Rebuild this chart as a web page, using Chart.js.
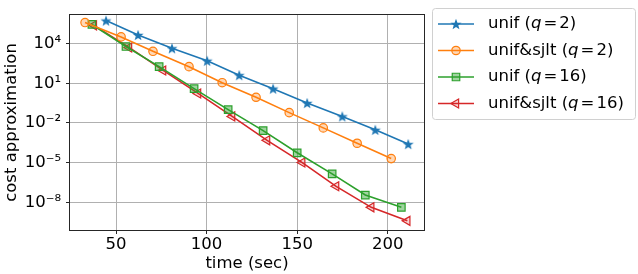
<!DOCTYPE html>
<html>
<head>
<meta charset="utf-8">
<script src="https://cdn.jsdelivr.net/npm/chart.js@4.4.0/dist/chart.umd.min.js"></script>
<style>
  html, body { margin: 0; padding: 0; background: #fff; }
  #wrap { width: 638px; height: 274px; position: relative; }
</style>
</head>
<body>
<div id="wrap"><canvas id="c" width="638" height="274"></canvas></div>
<script>
// ── data ──────────────────────────────────────────────────────────────────
const unifQ2X   = [44.5, 62.2, 80.9, 100.3, 118.0, 136.7, 155.5, 174.9, 193.1, 211.3];
const unifQ2Y   = [5.5e5, 4.5e4, 4.4e3, 5.0e2, 41, 3.9, 0.32, 0.031, 3.0e-3, 2.5e-4];
const sjltQ2X   = [32.9, 52.8, 70.4, 90.3, 108.6, 127.3, 145.6, 164.4, 183.1, 201.9];
const sjltQ2Y   = [3.9e5, 3.2e4, 2.6e3, 180, 11, 0.87, 0.060, 4.2e-3, 2.9e-4, 2.0e-5];
const unifQ16X  = [36.7, 55.5, 73.8, 93.1, 111.9, 131.2, 150.0, 169.3, 187.6, 207.5];
const unifQ16Y  = [2.8e5, 6.0e3, 180, 3.9, 0.10, 2.6e-3, 5.5e-5, 1.4e-6, 3.5e-8, 4.1e-9];
const sjltQ16X  = [37.8, 57.2, 76.0, 95.3, 114.1, 133.4, 152.8, 171.5, 190.9, 210.8];
const sjltQ16Y  = [2.4e5, 5.1e3, 93, 1.7, 0.031, 4.8e-4, 1.0e-5, 1.6e-7, 4.1e-9, 3.9e-10];

const xTicks = [50, 100, 150, 200];
const yTicks = [1e-8, 1e-5, 1e-2, 1e1, 1e4];
const yTickLabels = ["10⁻⁸", "10⁻⁵", "10⁻²", "10¹", "10⁴"];

// [text before q, q, value after "="]
const legendLabels = [
  ["unif (", "q", "2)"],
  ["unif&sjlt (", "q", "2)"],
  ["unif (", "q", "16)"],
  ["unif&sjlt (", "q", "16)"],
];

// ── markers ───────────────────────────────────────────────────────────────
const FONT = '"DejaVu Sans", sans-serif';
const FS = 16.5;
const blue = "#1f77b4", orange = "#ff7f0e", green = "#2ca02c", red = "#d62728";

function starMarker(color, r) {
  const cv = document.createElement("canvas");
  const s = Math.ceil(r * 2 + 2);
  cv.width = s; cv.height = s;
  const g = cv.getContext("2d");
  g.beginPath();
  for (let i = 0; i < 10; i++) {
    const rad = i % 2 === 0 ? r : r * 0.42;
    const a = -Math.PI / 2 + i * Math.PI / 5;
    const px = s / 2 + rad * Math.cos(a), py = s / 2 + rad * Math.sin(a) + 0.6;
    i === 0 ? g.moveTo(px, py) : g.lineTo(px, py);
  }
  g.closePath();
  g.fillStyle = color;
  g.fill();
  return cv;
}
const star = starMarker(blue, 5.8);

const pts = (xs, ys) => xs.map((x, i) => ({ x, y: ys[i] }));

const datasets = [
  { label: "unif q2", data: pts(unifQ2X, unifQ2Y), borderColor: blue, backgroundColor: blue,
    pointStyle: star, pointRadius: 5 },
  { label: "sjlt q2", data: pts(sjltQ2X, sjltQ2Y), borderColor: orange, backgroundColor: "rgba(255,127,14,0.3)",
    pointStyle: "circle", pointRadius: 4.2, pointBorderWidth: 1.2 },
  { label: "unif q16", data: pts(unifQ16X, unifQ16Y), borderColor: green, backgroundColor: "rgba(44,160,44,0.45)",
    pointStyle: "rect", pointRadius: 5.3, pointBorderWidth: 1.2 },
  { label: "sjlt q16", data: pts(sjltQ16X, sjltQ16Y), borderColor: red, backgroundColor: "rgba(214,39,40,0.2)",
    pointStyle: "triangle", rotation: -90, pointRadius: 5.2, pointBorderWidth: 1.2 },
].map(d => Object.assign({ borderWidth: 1.6, showLine: true, fill: false, tension: 0,
  pointBorderColor: d.borderColor, pointBackgroundColor: d.backgroundColor, pointHoverRadius: d.pointRadius }, d));

// ── frame + legend plugin ─────────────────────────────────────────────────
const framePlugin = {
  id: "frame",
  afterDraw(chart) {
    const { ctx, chartArea: a } = chart;
    ctx.save();
    ctx.strokeStyle = "#262626";
    ctx.lineWidth = 1;
    ctx.strokeRect(Math.round(a.left) - 0.5, Math.round(a.top) - 0.5,
                   Math.round(a.right - a.left) + 1, Math.round(a.bottom - a.top) + 1);

    // legend box
    const bx = 432.5, by = 8.5, bw = 203, bh = 111, r = 3;
    ctx.beginPath();
    ctx.moveTo(bx + r, by);
    ctx.arcTo(bx + bw, by, bx + bw, by + bh, r);
    ctx.arcTo(bx + bw, by + bh, bx, by + bh, r);
    ctx.arcTo(bx, by + bh, bx, by, r);
    ctx.arcTo(bx, by, bx + bw, by, r);
    ctx.closePath();
    ctx.fillStyle = "rgba(255,255,255,0.8)";
    ctx.fill();
    ctx.strokeStyle = "#d0d0d0";
    ctx.stroke();

    const rows = [24, 50.5, 77, 103.5];
    chart.data.datasets.forEach((ds, i) => {
      const y = rows[i];
      ctx.strokeStyle = ds.borderColor;
      ctx.lineWidth = ds.borderWidth;
      ctx.beginPath();
      ctx.moveTo(438, y); ctx.lineTo(474, y);
      ctx.stroke();
      ctx.fillStyle = ds.pointBackgroundColor;
      ctx.strokeStyle = ds.pointBorderColor;
      ctx.lineWidth = ds.pointBorderWidth || 1;
      Chart.helpers.drawPoint(ctx, {
        pointStyle: ds.pointStyle, rotation: ds.rotation || 0,
        radius: ds.pointRadius, borderWidth: ds.pointBorderWidth || 1,
      }, 456, y);

      // label, math part: italic q, spaced "="
      const [pre, q, post] = legendLabels[i];
      ctx.fillStyle = "#000";
      ctx.textBaseline = "middle";
      let x = 488;
      ctx.font = `${FS}px ${FONT}`;
      ctx.fillText(pre, x, y); x += ctx.measureText(pre).width;
      ctx.font = `oblique ${FS}px ${FONT}`;
      ctx.fillText(q, x, y); x += ctx.measureText(q).width + 2;
      ctx.font = `${FS}px ${FONT}`;
      ctx.fillText("=", x, y); x += ctx.measureText("=").width + 2;
      ctx.fillText(post, x, y);
    });
    ctx.restore();
  },
};

// ── chart ─────────────────────────────────────────────────────────────────
Chart.defaults.font.family = FONT;
Chart.defaults.font.size = FS;
Chart.defaults.color = "#000";

new Chart(document.getElementById("c").getContext("2d"), {
  type: "line",
  data: { datasets },
  plugins: [framePlugin],
  options: {
    responsive: false, animation: false,
    layout: { padding: { top: 5, right: 214, left: 0, bottom: 0 } },
    plugins: { legend: { display: false }, tooltip: { enabled: false } },
    scales: {
      x: {
        type: "linear", min: 24.6, max: 220,
        afterBuildTicks: s => { s.ticks = xTicks.map(v => ({ value: v })); },
        afterFit: s => { s.height = 44; },
        ticks: { padding: 1, font: { size: FS } },
        grid: { color: "#b0b0b0", lineWidth: 1, tickColor: "#262626", tickLength: 4 },
        border: { display: false },
        title: { display: true, text: "time (sec)", font: { size: FS }, padding: { top: 0, bottom: 0 } },
      },
      y: {
        type: "logarithmic", min: Math.pow(10, -10.1), max: Math.pow(10, 6.17),
        afterBuildTicks: s => { s.ticks = yTicks.map(v => ({ value: v })); },
        afterFit: s => { s.width = 70; },
        ticks: { padding: 5, font: { size: FS },
          callback: v => { const i = yTicks.indexOf(v); return i >= 0 ? yTickLabels[i] : ""; } },
        grid: { color: "#b0b0b0", lineWidth: 1, tickColor: "#262626", tickLength: 4 },
        border: { display: false },
        title: { display: true, text: "cost approximation", font: { size: FS }, padding: { top: 2, bottom: 0 } },
      },
    },
  },
});
</script>
</body>
</html>
